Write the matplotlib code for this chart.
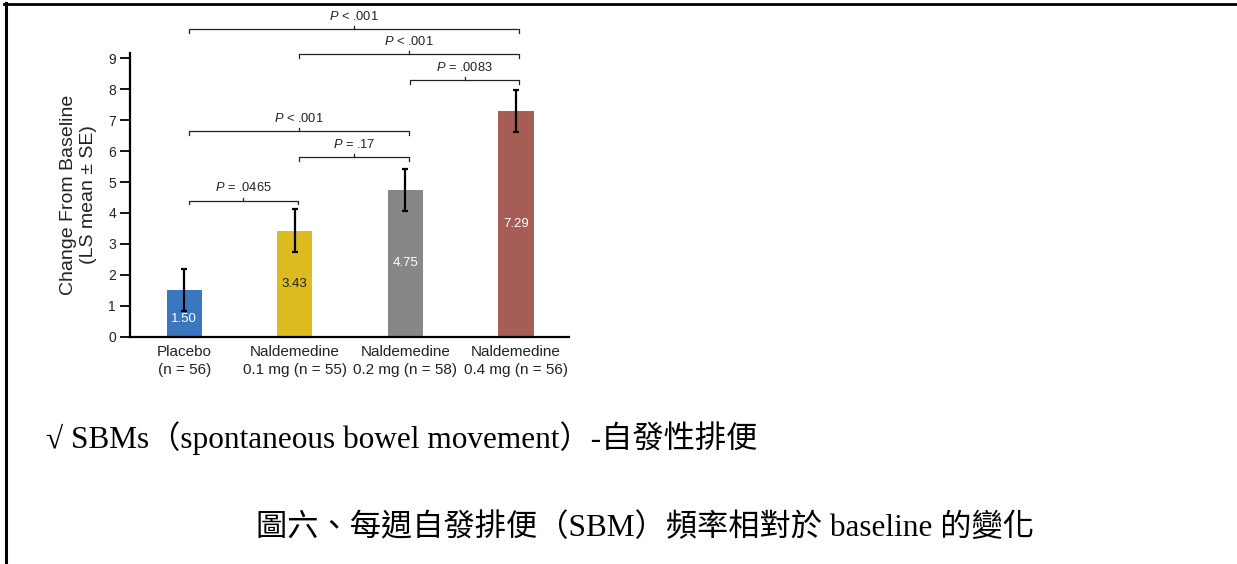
import numpy as np
import matplotlib.pyplot as plt
from matplotlib.lines import Line2D

plt.rcParams['font.family'] = ['Liberation Sans', 'DejaVu Sans']
plt.rcParams['mathtext.fontset'] = 'custom'
plt.rcParams['mathtext.it'] = 'Liberation Sans:italic'
plt.rcParams['mathtext.rm'] = 'Liberation Sans'

# weekly SBM change from baseline, LS mean and SE
groups = ['Placebo\n(n = 56)', 'Naldemedine\n0.1 mg (n = 55)',
          'Naldemedine\n0.2 mg (n = 58)', 'Naldemedine\n0.4 mg (n = 56)']
ls_mean = [1.50, 3.43, 4.75, 7.29]
se = [0.68, 0.70, 0.67, 0.68]
bar_colors = ['#3a77bf', '#dcbc1e', '#878787', '#a65d55']
value_colors = ['white', '#222222', 'white', 'white']

# pairwise comparisons
cmp_left = [0, 1, 0, 2, 1, 0]
cmp_right = [1, 2, 2, 3, 3, 3]
cmp_y = [4.40, 5.80, 6.64, 8.29, 9.13, 9.94]
cmp_p = ['= .0465', '= .17', '< .001', '= .0083', '< .001', '< .001']

fig = plt.figure(figsize=(12.37, 5.64), dpi=100)
ax = fig.add_axes([0.1051, 0.403, 0.3549, 0.5034])

x = np.arange(len(groups))
ax.bar(x, ls_mean, width=0.32, color=bar_colors, zorder=2)
ax.errorbar(x, ls_mean, yerr=se, fmt='none', ecolor='black',
            elinewidth=1.6, capsize=2, capthick=1.6, zorder=3)

for i, v in enumerate(ls_mean):
    ypos = min(v / 2, v - se[i] - 0.25)
    ax.text(x[i], ypos, f'{v:.2f}', ha='center', va='center',
            fontsize=9.5, color=value_colors[i], zorder=4)

for a, b, yb, p in zip(cmp_left, cmp_right, cmp_y, cmp_p):
    x0, x1 = a + 0.04, b + 0.03
    xm = (x0 + x1) / 2
    ax.plot([x0, x0, x1, x1], [yb - 0.12, yb, yb, yb - 0.12],
            color='#222222', lw=0.9, clip_on=False)
    ax.plot([xm, xm], [yb, yb + 0.1], color='#222222', lw=0.9, clip_on=False)
    ax.text(xm, yb + 0.3, r'$P$ ' + p, ha='center', va='baseline',
            fontsize=9.3, color='#222222', clip_on=False)

ax.set_xlim(-0.49, 3.48)
ax.set_ylim(0, 9.18)
ax.set_yticks(range(0, 10))
ax.set_xticks(x)
ax.set_xticklabels(groups, fontsize=11, color='#222222', linespacing=1.4)
ax.tick_params(axis='x', length=0, pad=6)
ax.tick_params(axis='y', length=7, width=1.3, labelsize=10, pad=3,
               labelcolor='#222222')
for s in ['top', 'right']:
    ax.spines[s].set_visible(False)
for s in ['left', 'bottom']:
    ax.spines[s].set_linewidth(1.6)
ax.set_ylabel('Change From Baseline\n(LS mean ± SE)', fontsize=14,
              color='#222222', linespacing=1.2)
ax.yaxis.set_label_coords(-0.075, 0.5)

# notes under the chart
cjk = ['Liberation Serif', 'Noto Sans CJK TC']
fig.text(46 / 1237, 1 - 438 / 564,
         '√ SBMs（spontaneous bowel movement）-自發性排便',
         family=cjk, fontsize=22.5, ha='left', va='center')
fig.text(645 / 1237, 1 - 528 / 564,
         '圖六、每週自發排便（SBM）頻率相對於 baseline 的變化',
         family=cjk, fontsize=22.5, ha='center', va='center')

# frame lines along the top and left edges
fig.add_artist(Line2D([4 / 1237, 1], [1 - 4.3 / 564] * 2,
                      color='black', lw=2, transform=fig.transFigure))
fig.add_artist(Line2D([5.5 / 1237] * 2, [0, 1 - 3 / 564],
                      color='black', lw=2.2, transform=fig.transFigure))

fig.savefig('out.png', dpi=100)
